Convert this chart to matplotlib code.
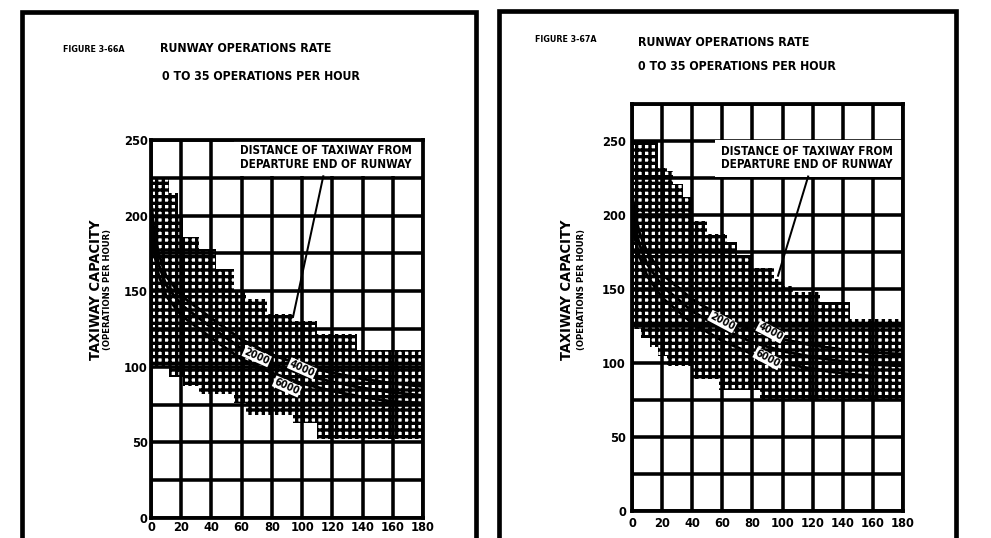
import matplotlib.pyplot as plt
from matplotlib.patches import Rectangle

W, H, DPI = 991, 538, 80
plt.rcParams['font.family'] = ['DejaVu Sans']
plt.rcParams['font.stretch'] = 'condensed'
plt.rcParams['hatch.linewidth'] = 3.0

# ---- data ----
x_ticks = [0, 20, 40, 60, 80, 100, 120, 140, 160, 180]
y_labels = [0, 50, 100, 150, 200, 250]

curve_x = [0, 2, 5, 10, 20, 40, 60, 80, 100, 120, 140, 160, 180]
left_2000 = [210, 190, 175, 160, 147, 132, 118, 108, 101, 96, 92, 89, 87]
left_4000 = [203, 183, 168, 154, 141, 126, 112, 102, 95, 90, 86, 83, 81]
left_6000 = [196, 176, 161, 147, 134, 119, 105, 96, 89, 84, 80, 77, 76]
right_2000 = [215, 200, 188, 175, 160, 143, 131, 122, 116, 112, 109, 107, 106]
right_4000 = [207, 192, 180, 167, 152, 135, 123, 114, 108, 104, 101, 99, 98]
right_6000 = [199, 184, 172, 159, 144, 127, 115, 106, 100, 96, 93, 91, 90]

# shaded range (stepped envelope)
left_band_x = [0, 12, 18, 21, 32, 43, 55, 63, 77, 94, 110, 136, 180]
left_band_top = [225, 215, 200, 186, 178, 165, 150, 145, 135, 130, 122, 111, 111]
left_band_bot = [100, 93, 93, 87, 82, 82, 76, 68, 68, 63, 52, 52, 52]

right_band_x = [0, 6, 12, 17.5, 23, 27.5, 34, 40.7, 49.6, 58, 63, 69.5, 80.6, 85, 94, 100.5, 107, 125, 145, 180]
right_band_top = [250, 250, 250, 232, 230, 221, 212, 196, 187, 187, 182, 173, 164, 164, 157, 152, 148, 141, 130, 130]
right_band_bot = [123, 117, 111, 105, 98, 98, 98, 89, 89, 82, 82, 82, 82, 75, 75, 75, 75, 75, 75, 75]

curve_names = ['2000', '4000', '6000']


def px_axes(fig, x0, y0, x1, y1):
    return fig.add_axes([x0 / W, 1 - y1 / H, (x1 - x0) / W, (y1 - y0) / H])


def panel(ax, ymax, band, curves, label_pos, rot, leader, pad):
    ax.set_xlim(0, 180)
    ax.set_ylim(0, ymax)
    ax.set_xticks(x_ticks)
    ax.set_xticklabels([str(v) for v in x_ticks])
    yt = list(range(0, ymax + 1, 25))
    ax.set_yticks(yt)
    ax.set_yticklabels([str(v) if v in y_labels else '' for v in yt])
    ax.grid(True, color='black', lw=3.2)
    ax.set_axisbelow(True)
    ax.tick_params(length=0, labelsize=11.5, pad=pad)
    for t in ax.get_xticklabels() + ax.get_yticklabels():
        t.set_fontweight('bold')
    for s in ax.spines.values():
        s.set_linewidth(3.4)

    bx, bt, bb = band
    ax.fill_between(bx, bb, bt, step='post', facecolor='none', edgecolor='black',
                    hatch='++', lw=0, zorder=1)

    for ys in curves:
        ax.plot(curve_x, ys, color='black', lw=2.6, zorder=3)
    for name, (lx, ly) in zip(curve_names, label_pos):
        ax.text(lx, ly, name, rotation=rot, ha='center', va='center', fontsize=9.5,
                fontweight='bold', rotation_mode='anchor', zorder=4,
                bbox=dict(boxstyle='square,pad=0.08', fc='white', ec='none'))

    # caption box in the top right corner
    ax.add_patch(Rectangle((55, 226), 125, 25, facecolor='white', edgecolor='none', zorder=1.5))
    ax.text(116, 243, 'DISTANCE OF TAXIWAY FROM', ha='center', va='center',
            fontsize=10.5, fontweight='bold', zorder=4)
    ax.text(116, 234, 'DEPARTURE END OF RUNWAY', ha='center', va='center',
            fontsize=10.5, fontweight='bold', zorder=4)
    ax.plot(leader[0], leader[1], color='black', lw=1.8, zorder=3)


fig = plt.figure(figsize=(W / DPI, H / DPI), dpi=DPI, facecolor='white')

# page frames and captions, in pixel units
bg = fig.add_axes([0, 0, 1, 1], zorder=-1)
bg.set_xlim(0, W)
bg.set_ylim(H, 0)
bg.axis('off')
bg.plot([22, 22, 476, 476], [H, 12, 12, H], color='black', lw=4.2, solid_joinstyle='miter')
bg.plot([499, 499, 956, 956], [H, 11, 11, H], color='black', lw=4.2, solid_joinstyle='miter')

title_kw = dict(fontweight='bold', va='center', ha='left')
bg.text(63, 49, 'FIGURE 3-66A', fontsize=8, **title_kw)
bg.text(160, 49, 'RUNWAY OPERATIONS RATE', fontsize=11, **title_kw)
bg.text(162, 76, '0 TO 35 OPERATIONS PER HOUR', fontsize=11, **title_kw)
bg.text(535, 40, 'FIGURE 3-67A', fontsize=8, **title_kw)
bg.text(638, 42, 'RUNWAY OPERATIONS RATE', fontsize=11, **title_kw)
bg.text(638, 67, '0 TO 35 OPERATIONS PER HOUR', fontsize=11, **title_kw)

for x1, x2 in [(96, 107.5), (567, 581.5)]:
    bg.text(x1, 290, 'TAXIWAY CAPACITY', rotation=90, ha='center', va='center',
            fontsize=13, fontweight='bold')
    bg.text(x2, 290, '(OPERATIONS PER HOUR)', rotation=90, ha='center', va='center',
            fontsize=8.5, fontweight='bold')

ax1 = px_axes(fig, 151, 140, 423, 518)
panel(ax1, 250, (left_band_x, left_band_top, left_band_bot),
      [left_2000, left_4000, left_6000],
      [(70, 107), (100, 99), (90, 87)], -24,
      ([114, 94], [226, 133]), 3)

ax2 = px_axes(fig, 632, 104, 903, 511)
panel(ax2, 275, (right_band_x, right_band_top, right_band_bot),
      [right_2000, right_4000, right_6000],
      [(60, 128), (92, 121), (90, 103)], -28,
      ([117, 97], [226, 159]), 5.5)

fig.savefig('out.png', dpi=DPI, facecolor='white')
